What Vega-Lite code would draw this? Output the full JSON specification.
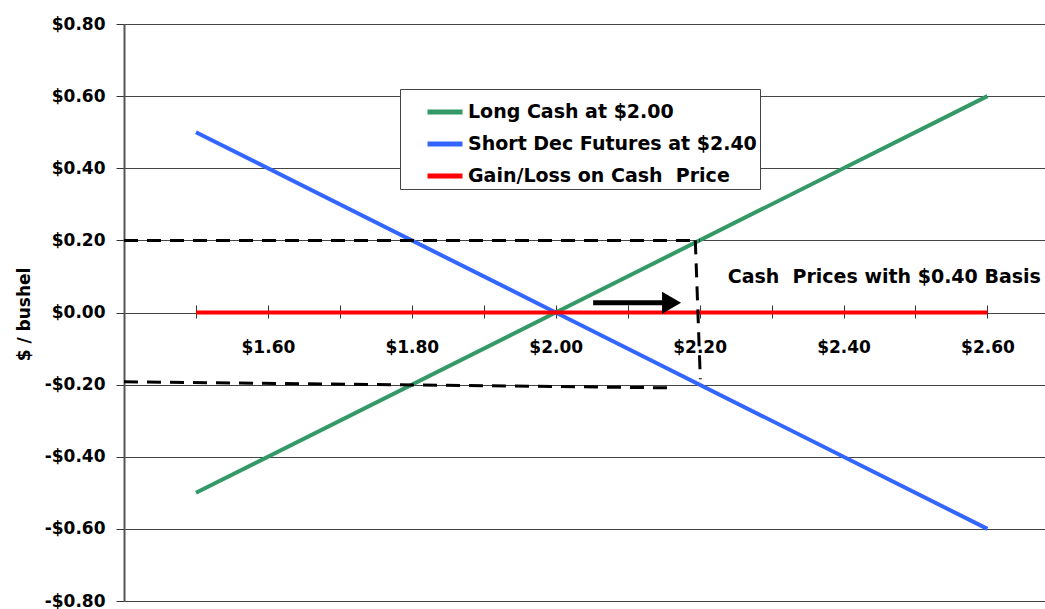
{
  "$schema": "https://vega.github.io/schema/vega-lite/v6.json",
  "width": 921,
  "height": 577,
  "autosize": "none",
  "padding": {"left": 124, "top": 24, "right": 0, "bottom": 8},
  "background": "white",
  "config": {
    "view": {"stroke": null},
    "font": "DejaVu Sans",
    "axis": {"labelFont": "DejaVu Sans", "titleFont": "DejaVu Sans", "labelFontWeight": "bold", "titleFontWeight": "bold", "labelColor": "black", "titleColor": "black"}
  },
  "datasets": {
    "lines": [
      {"series": "Long Cash at $2.00", "price": 1.5, "value": -0.5},
      {"series": "Long Cash at $2.00", "price": 2.0, "value": 0.0},
      {"series": "Long Cash at $2.00", "price": 2.6, "value": 0.6},
      {"series": "Short Dec Futures at $2.40", "price": 1.5, "value": 0.5},
      {"series": "Short Dec Futures at $2.40", "price": 2.0, "value": 0.0},
      {"series": "Short Dec Futures at $2.40", "price": 2.6, "value": -0.6},
      {"series": "Gain/Loss on Cash\u00a0 Price", "price": 1.5, "value": 0.0},
      {"series": "Gain/Loss on Cash\u00a0 Price", "price": 2.0, "value": 0.0},
      {"series": "Gain/Loss on Cash\u00a0 Price", "price": 2.6, "value": 0.0}
    ],
    "dashed": [
      {"seg": "top", "price": 1.4, "value": 0.2},
      {"seg": "top", "price": 2.2, "value": 0.2},
      {"seg": "bottom", "price": 1.4, "value": -0.192},
      {"seg": "bottom", "price": 2.164, "value": -0.209},
      {"seg": "vertical", "price": 2.194, "value": 0.2},
      {"seg": "vertical", "price": 2.201, "value": -0.185}
    ],
    "arrow": [
      {"price": 2.052, "value": 0.027},
      {"price": 2.155, "value": 0.027}
    ],
    "head": [{"price": 2.161, "value": 0.027}],
    "note": [{"price": 2.239, "value": 0.098, "label": "Cash\u00a0 Prices with $0.40 Basis"}]
  },
  "layer": [
    {
      "data": {"name": "lines"},
      "mark": {"type": "line", "strokeWidth": 4},
      "encoding": {
        "x": {
          "field": "price", "type": "quantitative",
          "scale": {"domain": [1.4, 2.68], "nice": false, "zero": false},
          "axis": {
            "title": null,
            "orient": "bottom",
            "offset": -296,
            "domain": false,
            "grid": false,
            "values": [1.5, 1.6, 1.7, 1.8, 1.9, 2.0, 2.1, 2.2, 2.3, 2.4, 2.5, 2.6],
            "tickSize": 13,
            "tickColor": "#333333",
            "tickWidth": 1,
            "labelExpr": "round(datum.value * 10) % 2 == 0 ? '$' + format(datum.value, '.2f') : ''",
            "labelFontSize": 17,
            "labelPadding": 21,
            "labelOverlap": false,
            "labelFlush": false
          }
        },
        "y": {
          "field": "value", "type": "quantitative",
          "scale": {"domain": [-0.8, 0.8], "nice": false},
          "axis": {
            "title": "$ / bushel",
            "titleFontSize": 17,
            "titleAngle": -90,
            "titleX": -100,
            "titleY": 290,
            "titleAlign": "center",
            "titleBaseline": "middle",
            "values": [-0.8, -0.6, -0.4, -0.2, 0, 0.2, 0.4, 0.6, 0.8],
            "labelExpr": "datum.value < 0 ? '-$' + format(abs(datum.value), '.2f') : '$' + format(datum.value, '.2f')",
            "labelFontSize": 17,
            "labelPadding": 11,
            "tickSize": 8,
            "tickColor": "#333333",
            "domainColor": "#555555",
            "domainWidth": 2,
            "grid": true,
            "gridColor": "#444444",
            "gridWidth": 1
          }
        },
        "color": {
          "field": "series", "type": "nominal",
          "scale": {
            "domain": ["Long Cash at $2.00", "Short Dec Futures at $2.40", "Gain/Loss on Cash\u00a0 Price"],
            "range": ["#339966", "#3366FF", "#FF0000"]
          },
          "legend": {
            "title": null,
            "orient": "none",
            "legendX": 276,
            "legendY": 65,
            "fillColor": "white",
            "strokeColor": "#444444",
            "padding": 3,
            "symbolOffset": 22,
            "symbolType": "stroke",
            "symbolSize": 1225,
            "symbolStrokeWidth": 5,
            "labelFont": "DejaVu Sans",
            "labelFontWeight": "bold",
            "labelFontSize": 19,
            "labelColor": "black",
            "labelLimit": 500,
            "labelOffset": 3,
            "rowPadding": 2
          }
        },
        "order": {"field": "price", "type": "quantitative"}
      }
    },
    {
      "data": {"name": "dashed"},
      "mark": {"type": "line", "color": "black", "strokeWidth": 3, "strokeDash": [14, 9]},
      "encoding": {
        "x": {"field": "price", "type": "quantitative"},
        "y": {"field": "value", "type": "quantitative"},
        "detail": {"field": "seg", "type": "nominal"}
      }
    },
    {
      "data": {"name": "arrow"},
      "mark": {"type": "line", "color": "black", "strokeWidth": 5},
      "encoding": {
        "x": {"field": "price", "type": "quantitative"},
        "y": {"field": "value", "type": "quantitative"}
      }
    },
    {
      "data": {"name": "head"},
      "mark": {"type": "point", "shape": "triangle-right", "filled": true, "color": "black", "opacity": 1, "size": 480},
      "encoding": {
        "x": {"field": "price", "type": "quantitative"},
        "y": {"field": "value", "type": "quantitative"}
      }
    },
    {
      "data": {"name": "note"},
      "mark": {"type": "text", "align": "left", "baseline": "middle", "font": "DejaVu Sans", "fontWeight": "bold", "fontSize": 19, "color": "black"},
      "encoding": {
        "x": {"field": "price", "type": "quantitative"},
        "y": {"field": "value", "type": "quantitative"},
        "text": {"field": "label"}
      }
    }
  ]
}
